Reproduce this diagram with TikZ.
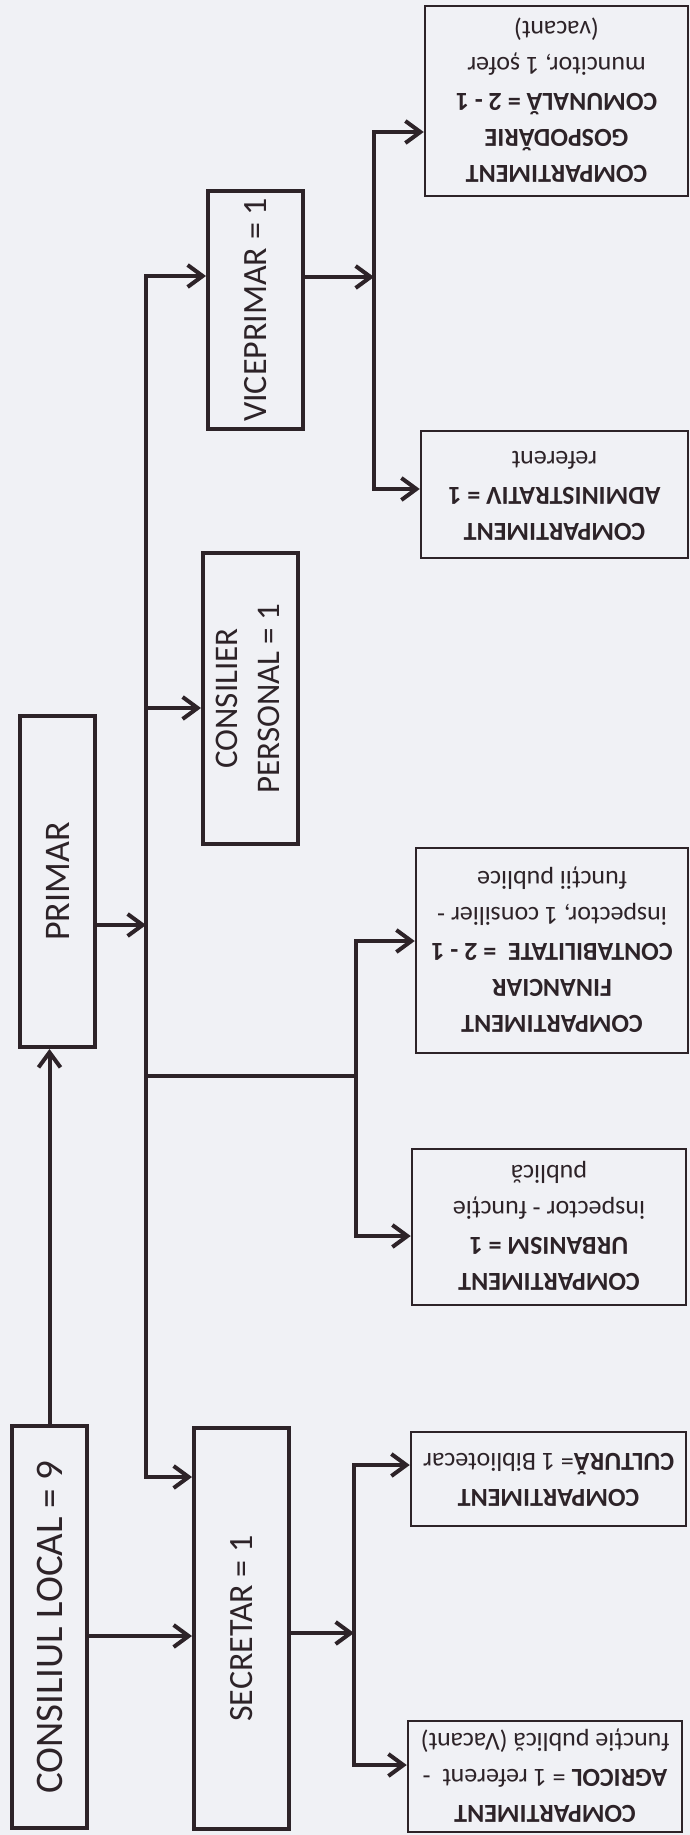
\documentclass[tikz,border=0pt]{standalone}
\usepackage{fontspec}
\setmainfont{Carlito}
\usepackage{graphicx}
\usetikzlibrary{arrows.meta}
\definecolor{ink}{HTML}{2D2328}
\definecolor{paper}{HTML}{F0F1F5}
\newcommand{\cboxtext}[1]{\rotatebox{180}{\begin{tabular}{@{}c@{}}#1\end{tabular}}}
\begin{document}
\begin{tikzpicture}[x=1pt,y=-1pt,
  mainbox/.style={draw=ink,line width=4pt,inner sep=0pt,text=ink},
  compbox/.style={draw=ink,line width=2.5pt,inner sep=0pt,text=ink,font=\fontsize{26}{36}\selectfont},
  conn/.style={draw=ink,line width=4pt,line join=miter},
  arr/.style={-{Straight Barb[length=15pt,width=22pt,line width=4pt]}},
  arrboth/.style={{Straight Barb[length=15pt,width=22pt,line width=4pt]}-{Straight Barb[length=15pt,width=22pt,line width=4pt]}}]
\fill[paper] (0,0) rectangle (690,1835);
\useasboundingbox (0,0) rectangle (690,1835);

% main boxes
\node[mainbox,minimum width=75pt,minimum height=402pt,font=\fontsize{39}{47}\selectfont] (cl) at (49.5,1627) {\rotatebox{90}{CONSILIUL LOCAL = 9}};
\node[mainbox,minimum width=75pt,minimum height=331pt,font=\fontsize{36}{44}\selectfont] (primar) at (57.5,881.5) {\rotatebox{90}{PRIMAR}};
\node[mainbox,minimum width=95pt,minimum height=291pt,font=\fontsize{33}{42}\selectfont] (cons) at (250.5,698.5) {\rotatebox{90}{\begin{tabular}{@{}c@{}}CONSILIER\\PERSONAL = 1\end{tabular}}};
\node[mainbox,minimum width=95pt,minimum height=238pt,font=\fontsize{34}{42}\selectfont] (vice) at (255.5,310) {\rotatebox{90}{VICEPRIMAR = 1}};
\node[mainbox,minimum width=95pt,minimum height=401pt,font=\fontsize{34}{42}\selectfont] (sec) at (241.5,1628.5) {\rotatebox{90}{SECRETAR = 1}};

% compartment boxes
\node[compbox,minimum width=263pt,minimum height=190pt] (gosp) at (556.5,101) {\cboxtext{\textbf{COMPARTIMENT}\\\textbf{GOSPODĂRIE}\\\textbf{COMUNALĂ = 2 - 1}\\muncitor, 1 șofer\\(vacant)}};
\node[compbox,minimum width=267pt,minimum height=127pt] (admin) at (554.5,494.5) {\cboxtext{\textbf{COMPARTIMENT}\\\textbf{ADMINISTRATIV = 1}\\referent}};
\node[compbox,minimum width=272pt,minimum height=205pt] (fin) at (552,950.5) {\cboxtext{\textbf{COMPARTIMENT}\\\textbf{FINANCIAR}\\\textbf{CONTABILITATE \ = 2 - 1}\\inspector, 1 consilier -\\funcții publice}};
\node[compbox,minimum width=274pt,minimum height=156pt] (urb) at (549,1227) {\cboxtext{\textbf{COMPARTIMENT}\\\textbf{URBANISM = 1}\\inspector - funcție\\publică}};
\node[compbox,minimum width=275pt,minimum height=94pt] (cult) at (548.5,1479) {\cboxtext{\textbf{COMPARTIMENT}\\\textbf{CULTURĂ}= 1 Bibliotecar}};
\node[compbox,minimum width=274pt,minimum height=111pt] (agr) at (545,1776.5) {\cboxtext{\textbf{COMPARTIMENT}\\\textbf{AGRICOL} = 1 referent \ -\\funcție publică (Vacant)}};

% junction coordinates
\coordinate (tTop) at (146,276);
\coordinate (tBot) at (146,1477);
\coordinate (pj) at (146,925);
\coordinate (cj) at (146,708);
\coordinate (bj) at (146,1076);
\coordinate (fj) at (356,941);
\coordinate (uj) at (356,1236);
\coordinate (vj) at (374,277);
\coordinate (gj) at (374,132);
\coordinate (aj) at (374,489);
\coordinate (sj) at (354,1633);
\coordinate (kj) at (354,1465);
\coordinate (rj) at (354,1765);
\coordinate (csy) at (0,1636);

% connectors
\draw[conn,arr] (cl.north) -- (cl.north |- primar.south);
\draw[conn,arr] (primar.east |- pj) -- (pj);
\draw[conn,arrboth] (tTop -| vice.west) -- (tTop) -- (tBot) -- (tBot -| sec.west);
\draw[conn,arr] (cj) -- (cj -| cons.west);
\draw[conn] (bj) -- (bj -| fj);
\draw[conn,arrboth] (fj -| fin.west) -- (fj) -- (uj) -- (uj -| urb.west);
\draw[conn,arr] (cl.east |- csy) -- (csy -| sec.west);
\draw[conn,arr] (sec.east |- sj) -- (sj);
\draw[conn,arrboth] (kj -| cult.west) -- (kj) -- (rj) -- (rj -| agr.west);
\draw[conn,arr] (vice.east |- vj) -- (vj);
\draw[conn,arrboth] (gj -| gosp.west) -- (gj) -- (aj) -- (aj -| admin.west);
\end{tikzpicture}
\end{document}
